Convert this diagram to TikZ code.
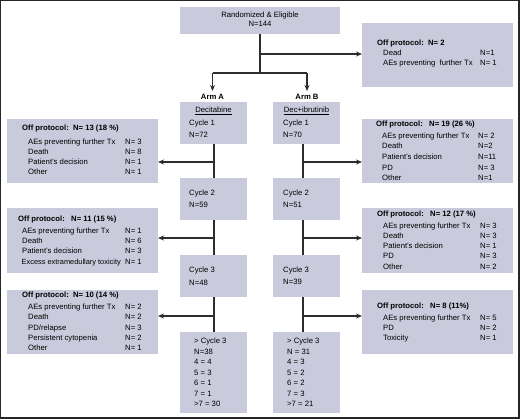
\documentclass[tikz,border=0pt]{standalone}
\usepackage{fontspec}
\setmainfont{Liberation Sans}
\usetikzlibrary{arrows.meta}
\definecolor{boxfill}{RGB}{201,202,220}
\definecolor{ln}{RGB}{45,45,45}
\tikzset{
  box/.style={fill=boxfill, draw=none, anchor=north west, inner sep=0, outer sep=0},
  t/.style={anchor=west, inner sep=0, text height=5.5pt, text depth=1.5pt, font=\fontsize{7.7}{9}\selectfont},
  tc/.style={t, anchor=center},
  tb/.style={t, font=\fontsize{7.7}{9}\selectfont\bfseries},
  conn/.style={draw=ln, line width=1.1pt},
  arr/.style={conn, -{Stealth[length=6pt,width=5pt]}},
}
\begin{document}
\begin{tikzpicture}[x=1pt,y=-1pt]
\useasboundingbox (0,0) rectangle (520,420);
\draw[line width=1.4pt, draw=black!85] (0.7,0.7) rectangle (518.8,417.8);

% boxes
\node[box, minimum width=160pt, minimum height=27pt] (top) at (180,7) {};
\node[box, minimum width=151pt, minimum height=64pt] (off0) at (362,23) {};
\node[box, minimum width=67pt, minimum height=42pt] (a1) at (180,102) {};
\node[box, minimum width=67pt, minimum height=42pt] (b1) at (273,102) {};
\node[box, minimum width=67pt, minimum height=42pt] (a2) at (180,178) {};
\node[box, minimum width=67pt, minimum height=42pt] (b2) at (273,178) {};
\node[box, minimum width=67pt, minimum height=42pt] (a3) at (180,255) {};
\node[box, minimum width=67pt, minimum height=42pt] (b3) at (273,255) {};
\node[box, minimum width=67pt, minimum height=81pt] (a4) at (180,332) {};
\node[box, minimum width=67pt, minimum height=81pt] (b4) at (273,332) {};
\node[box, minimum width=151pt, minimum height=64pt] (offA1) at (7,119) {};
\node[box, minimum width=151pt, minimum height=65pt] (offA2) at (7,208) {};
\node[box, minimum width=151pt, minimum height=64pt] (offA3) at (7,290) {};
\node[box, minimum width=151pt, minimum height=64pt] (offB1) at (362,119) {};
\node[box, minimum width=151pt, minimum height=65pt] (offB2) at (362,208) {};
\node[box, minimum width=151pt, minimum height=64pt] (offB3) at (362,290) {};

% top box text
\node[tc] (tt1) at (260,15.5) {Randomized \& Eligible};
\node[tc] (tt2) at (260,24.5) {N=144};

% off protocol 0
\node[tb] (o0t) at (377,44) {Off protocol:\ \ N= 2};
\node[t] (o0a) at (383,53.5) {Dead};
\node[t] (o0av) at (480,53.5) {N=1};
\node[t] (o0b) at (383,64) {AEs preventing\ \ further Tx};
\node[t] (o0bv) at (480,64) {N= 1};

% arm labels
\node[tc, font=\fontsize{7.7}{9}\selectfont\bfseries] (armA) at (212.5,97.5) {Arm A};
\node[tc, font=\fontsize{7.7}{9}\selectfont\bfseries] (armB) at (307,97.5) {Arm B};

% arm A boxes text
\node[tc] (a1h) at (213.5,111) {\underline{Decitabine}};
\node[t] (a1c) at (189,123) {Cycle 1};
\node[t] (a1n) at (189,135) {N=72};
\node[t] (a2c) at (189,193) {Cycle 2};
\node[t] (a2n) at (189,205) {N=59};
\node[t] (a3c) at (189,270) {Cycle 3};
\node[t] (a3n) at (189,283) {N=48};
\node[t] (a4a) at (194,341) {> Cycle 3};
\node[t] (a4b) at (194,352) {N=38};
\node[t] (a4c) at (194,362.5) {4 = 4};
\node[t] (a4d) at (194,373) {5 = 3};
\node[t] (a4e) at (194,383.5) {6 = 1};
\node[t] (a4f) at (194,394) {7 = 1};
\node[t] (a4g) at (194,404) {>7 = 30};

% arm B boxes text
\node[tc] (b1h) at (306.5,111) {\underline{Dec+ibrutinib}};
\node[t] (b1c) at (283,123) {Cycle 1};
\node[t] (b1n) at (283,135) {N=70};
\node[t] (b2c) at (283,193) {Cycle 2};
\node[t] (b2n) at (283,205) {N=51};
\node[t] (b3c) at (283,270) {Cycle 3};
\node[t] (b3n) at (283,282) {N=39};
\node[t] (b4a) at (287,341) {> Cycle 3};
\node[t] (b4b) at (287,352) {N = 31};
\node[t] (b4c) at (287,362.5) {4 = 3};
\node[t] (b4d) at (287,373) {5 = 2};
\node[t] (b4e) at (287,383.5) {6 = 2};
\node[t] (b4f) at (287,394) {7 = 3};
\node[t] (b4g) at (287,404) {>7 = 21};

% off A1
\node[tb] (oa1t) at (22,129) {Off protocol:\ \ N= 13 (18 \%)};
\node[t] (oa1a) at (28,142) {AEs preventing further Tx};
\node[t] (oa1av) at (125,142) {N= 3};
\node[t] (oa1b) at (28,152.5) {Death};
\node[t] (oa1bv) at (125,152.5) {N= 8};
\node[t] (oa1c) at (28,162.5) {Patient's decision};
\node[t] (oa1cv) at (125,162.5) {N= 1};
\node[t] (oa1d) at (28,172.5) {Other};
\node[t] (oa1dv) at (125,172.5) {N= 1};

% off A2
\node[tb] (oa2t) at (18,219) {Off protocol:\ \ \ N= 11 (15 \%)};
\node[t] (oa2a) at (22,231) {AEs preventing further Tx};
\node[t] (oa2av) at (125,231) {N= 1};
\node[t] (oa2b) at (22,241) {Death};
\node[t] (oa2bv) at (125,241) {N= 6};
\node[t] (oa2c) at (22,251.5) {Patient's decision};
\node[t] (oa2cv) at (125,251.5) {N= 3};
\node[t, font=\fontsize{7.4}{9}\selectfont] (oa2d) at (21.5,262) {Excess extramedullary toxicity};
\node[t] (oa2dv) at (125,262) {N= 1};

% off A3
\node[tb] (oa3t) at (22,295) {Off protocol:\ \ N= 10 (14 \%)};
\node[t] (oa3a) at (28,307) {AEs preventing further Tx};
\node[t] (oa3av) at (125,307) {N= 2};
\node[t] (oa3b) at (28,317.5) {Death};
\node[t] (oa3bv) at (125,317.5) {N= 2};
\node[t] (oa3c) at (28,328) {PD/relapse};
\node[t] (oa3cv) at (125,328) {N= 3};
\node[t] (oa3d) at (28,338) {Persistent cytopenia};
\node[t] (oa3dv) at (125,338) {N= 2};
\node[t] (oa3e) at (28,348) {Other};
\node[t] (oa3ev) at (125,348) {N= 1};

% off B1
\node[tb] (ob1t) at (376,125) {Off protocol:\ \ \ N= 19 (26 \%)};
\node[t] (ob1a) at (382,137) {AEs preventing further Tx};
\node[t] (ob1av) at (478,137) {N= 2};
\node[t] (ob1b) at (382,147) {Death};
\node[t] (ob1bv) at (478,147) {N=2};
\node[t] (ob1c) at (382,157.5) {Patient's decision};
\node[t] (ob1cv) at (478,157.5) {N=11};
\node[t] (ob1d) at (382,168) {PD};
\node[t] (ob1dv) at (478,168) {N= 3};
\node[t] (ob1e) at (382,178) {Other};
\node[t] (ob1ev) at (478,178) {N=1};

% off B2
\node[tb] (ob2t) at (377,214) {Off protocol:\ \ \ N= 12 (17 \%)};
\node[t] (ob2a) at (383,226) {AEs preventing further Tx};
\node[t] (ob2av) at (480,226) {N= 3};
\node[t] (ob2b) at (383,236) {Death};
\node[t] (ob2bv) at (480,236) {N= 3};
\node[t] (ob2c) at (383,246.5) {Patient's decision};
\node[t] (ob2cv) at (480,246.5) {N= 1};
\node[t] (ob2d) at (383,256.5) {PD};
\node[t] (ob2dv) at (480,256.5) {N= 3};
\node[t] (ob2e) at (383,267) {Other};
\node[t] (ob2ev) at (480,267) {N= 2};

% off B3
\node[tb] (ob3t) at (377,306) {Off protocol:\ \ \ N= 8 (11\%)};
\node[t] (ob3a) at (383,318) {AEs preventing further Tx};
\node[t] (ob3av) at (480,318) {N= 5};
\node[t] (ob3b) at (383,328) {PD};
\node[t] (ob3bv) at (480,328) {N= 2};
\node[t] (ob3c) at (383,338.5) {Toxicity};
\node[t] (ob3cv) at (480,338.5) {N= 1};

% connectors
\coordinate (j0) at (260,54);
\coordinate (j1) at (260,73);
\coordinate (jA) at (212.5,73);
\coordinate (jB) at (307,73);
\coordinate (eA) at (212.5,91);
\coordinate (eB) at (307,91);
\draw[conn] (top.south) -- (j1);
\draw[arr] (j0) -- (off0.west |- j0);
\draw[conn] (jA) -- (jB);
\draw[arr] (jA) -- (eA);
\draw[arr] (jB) -- (eB);

\coordinate (ja1) at (214,162);
\coordinate (ja2) at (214,238);
\coordinate (ja3) at (214,316);
\coordinate (jb1) at (303,162);
\coordinate (jb2) at (303,238);
\coordinate (jb3) at (303,316);
\draw[conn] (a1.south -| ja1) -- (a2.north -| ja1);
\draw[conn] (a2.south -| ja2) -- (a3.north -| ja2);
\draw[conn] (a3.south -| ja3) -- (a4.north -| ja3);
\draw[conn] (b1.south -| jb1) -- (b2.north -| jb1);
\draw[conn] (b2.south -| jb2) -- (b3.north -| jb2);
\draw[conn] (b3.south -| jb3) -- (b4.north -| jb3);
\draw[arr] (ja1) -- (offA1.east |- ja1);
\draw[arr] (ja2) -- (offA2.east |- ja2);
\draw[arr] (ja3) -- (offA3.east |- ja3);
\draw[arr] (jb1) -- (offB1.west |- jb1);
\draw[arr] (jb2) -- (offB2.west |- jb2);
\draw[arr] (jb3) -- (offB3.west |- jb3);
\end{tikzpicture}
\end{document}
